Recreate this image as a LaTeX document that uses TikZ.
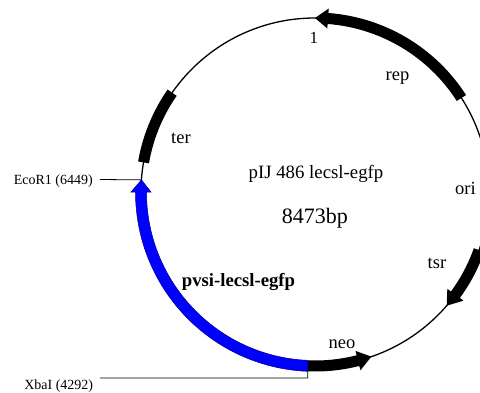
\documentclass[tikz,border=0pt]{standalone}
\usepackage{fontspec}
\setmainfont{Liberation Serif}
\begin{document}
\begin{tikzpicture}[
  feat/.style={fill=black},
  ins/.style={fill=blue, draw=blue!55!black, line width=0.5pt},
  lab/.style={font=\fontsize{18.5pt}{20pt}\selectfont, inner sep=0pt, anchor=base},
  site/.style={font=\fontsize{14pt}{16pt}\selectfont, inner sep=0pt, anchor=base east},
  lead/.style={line width=0.8pt},
  backbone/.style={line width=1.3pt}
]
\useasboundingbox (-315pt,-200pt) rectangle (165pt,192pt);
\clip (-315pt,-200pt) rectangle (165pt,192pt);

% backbone
\draw[backbone] (0,0) circle[radius=174pt];

% sites
\coordinate (eco) at (176:174pt);
\coordinate (xba) at (-92.36:174pt);
\coordinate (xbadown) at (-7.2pt,-186pt);
\node[site] (ecolab) at (-222pt,8pt) {EcoR1 (6449)};
\node[site] (xbalab) at (-221.7pt,-197pt) {XbaI (4292)};
\draw[lead] (-215pt,12.5pt) -- (eco);
\draw[lead] (-215pt,-186pt) -- (xbadown) -- (xba);

% rep
\fill[feat] (32.7:179.5pt) arc[start angle=32.7, end angle=85.7, radius=179.5pt]
  -- (85.7:184pt) -- (90:174pt) -- (85.7:164pt) -- (85.7:168.5pt)
  arc[start angle=85.7, end angle=32.7, radius=168.5pt] -- cycle;
% ter
\fill[feat] (145.2:179.5pt) arc[start angle=145.2, end angle=170.2, radius=179.5pt]
  -- (170.2:168.5pt) arc[start angle=170.2, end angle=145.2, radius=168.5pt] -- cycle;
% tsr
\fill[feat] (-19.5:179.5pt) arc[start angle=-19.5, end angle=-36.2, radius=179.5pt]
  -- (-36.2:184pt) -- (-40.8:174pt) -- (-36.2:164pt) -- (-36.2:168.5pt)
  arc[start angle=-36.2, end angle=-19.5, radius=168.5pt] -- cycle;
% neo
\fill[feat] (-92.36:179.5pt) arc[start angle=-92.36, end angle=-75.7, radius=179.5pt]
  -- (-75.7:184pt) -- (-71.1:174pt) -- (-75.7:164pt) -- (-75.7:168.5pt)
  arc[start angle=-75.7, end angle=-92.36, radius=168.5pt] -- cycle;
% insert
\filldraw[ins] (-92.36:179.5pt) arc[start angle=-92.36, end angle=-180, radius=179.5pt]
  -- (-180:184pt) -- (-184:174pt) -- (-180:164pt) -- (-180:168.5pt)
  arc[start angle=-180, end angle=-92.36, radius=168.5pt] -- cycle;

% labels
\node[lab, font=\fontsize{17pt}{19pt}\selectfont] (one) at (-1pt,149pt) {1};
\node[lab] (rep) at (82.5pt,112pt) {rep};
\node[lab] (ter) at (-134pt,49pt) {ter};
\node[lab] (ori) at (150.5pt,-2pt) {ori};
\node[lab] (tsr) at (122pt,-76pt) {tsr};
\node[lab] (neo) at (27pt,-156pt) {neo};
\node[lab, font=\fontsize{18.7pt}{20pt}\selectfont\bfseries] (ins) at (-76.5pt,-94pt) {pvsi-lecsl-egfp};
\node[lab, font=\fontsize{18.8pt}{20pt}\selectfont] (name) at (1pt,14pt) {pIJ 486 lecsl-egfp};
\node[lab, font=\fontsize{22pt}{24pt}\selectfont] (size) at (0pt,-31pt) {8473bp};
\end{tikzpicture}
\end{document}
